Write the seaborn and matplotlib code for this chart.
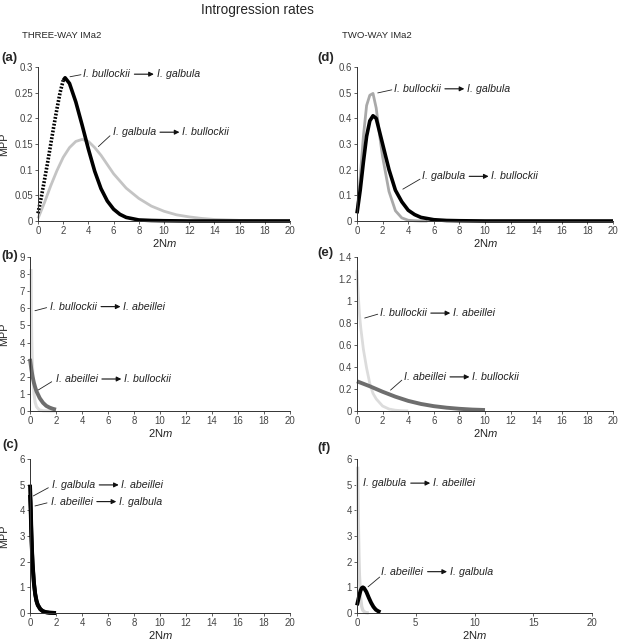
import numpy as np
import pandas as pd
import matplotlib.pyplot as plt
import seaborn as sns
from matplotlib.text import OffsetFrom
from matplotlib.ticker import FuncFormatter, MultipleLocator

sns.set_style("white")
plt.rcParams["font.family"] = ["Liberation Sans", "DejaVu Sans"]
plt.rcParams["mathtext.fontset"] = "custom"
plt.rcParams["mathtext.rm"] = "Liberation Sans"
plt.rcParams["mathtext.it"] = "Liberation Sans:italic"

# (a) three-way, bullockii <-> galbula
a_bg_x = [0, 0.25, 0.5, 0.75, 1, 1.25, 1.5, 1.75, 2, 2.15, 2.5, 3, 3.5, 4, 4.5, 5, 5.5, 6, 6.5, 7, 8, 9, 10, 12, 14, 16, 18, 20]
a_bg_y = [0.015, 0.045, 0.078, 0.112, 0.148, 0.184, 0.218, 0.250, 0.274, 0.279, 0.268, 0.232, 0.187, 0.140, 0.097, 0.063, 0.039, 0.023, 0.013, 0.007, 0.002, 0.001, 0.0005, 0, 0, 0, 0, 0]
a_gb_x = [0, 0.5, 1, 1.5, 2, 2.5, 3, 3.5, 4, 4.5, 5, 6, 7, 8, 9, 10, 11, 12, 13, 14, 16, 18, 20]
a_gb_y = [0.005, 0.035, 0.068, 0.098, 0.124, 0.143, 0.155, 0.159, 0.155, 0.143, 0.128, 0.092, 0.064, 0.044, 0.029, 0.019, 0.012, 0.008, 0.005, 0.003, 0.0012, 0.0005, 0.0002]

# (d) two-way, bullockii <-> galbula
d_bg_x = [0, 0.25, 0.5, 0.75, 1, 1.25, 1.5, 1.75, 2, 2.5, 3, 3.5, 4, 4.5, 5, 5.5]
d_bg_y = [0.03, 0.17, 0.33, 0.45, 0.49, 0.497, 0.44, 0.34, 0.25, 0.115, 0.04, 0.012, 0.003, 0.001, 0, 0]
d_gb_x = [0, 0.25, 0.5, 0.75, 1, 1.25, 1.5, 2, 2.5, 3, 3.5, 4, 4.5, 5, 6, 7, 8, 10, 15, 20]
d_gb_y = [0.03, 0.12, 0.23, 0.33, 0.39, 0.41, 0.40, 0.30, 0.20, 0.12, 0.075, 0.042, 0.025, 0.014, 0.005, 0.002, 0.001, 0, 0, 0]

# (b) three-way, bullockii <-> abeillei
b_ba_x = [0.08, 0.1, 0.13, 0.17, 0.22, 0.3, 0.4, 0.5, 0.7, 1.0, 1.5, 2.0]
b_ba_y = [8.3, 6.0, 4.2, 3.0, 2.1, 1.05, 0.5, 0.25, 0.07, 0.01, 0.002, 0]
b_ab_x = [0, 0.1, 0.2, 0.3, 0.4, 0.5, 0.75, 1.0, 1.25, 1.5, 1.75, 2.0]
b_ab_y = [3.05, 2.45, 2.0, 1.65, 1.38, 1.15, 0.75, 0.48, 0.3, 0.2, 0.13, 0.08]

# (e) two-way, bullockii <-> abeillei
e_ba_x = [0, 0.1, 0.2, 0.3, 0.5, 0.75, 1.0, 1.25, 1.5, 2.0, 2.5, 3.0, 3.5, 4.0]
e_ba_y = [1.28, 1.05, 0.87, 0.75, 0.56, 0.39, 0.25, 0.16, 0.11, 0.045, 0.018, 0.007, 0.003, 0.001]
e_ab_x = [0, 1, 2, 3, 4, 5, 6, 7, 8, 9, 10]
e_ab_y = [0.27, 0.225, 0.175, 0.13, 0.092, 0.064, 0.044, 0.03, 0.02, 0.013, 0.009]

# (c) three-way, galbula <-> abeillei
c_ga_x = [0, 0.05, 0.1, 0.15, 0.2, 0.3, 0.4, 0.5, 0.6, 0.8, 1.0, 1.25, 1.5, 2.0]
c_ga_y = [5.0, 4.3, 3.3, 2.5, 1.95, 1.2, 0.75, 0.48, 0.32, 0.15, 0.07, 0.03, 0.012, 0.0]
c_ag_x = [0, 0.05, 0.1, 0.15, 0.2, 0.3, 0.4, 0.5, 0.6, 0.8, 1.0, 1.25, 1.5, 2.0]
c_ag_y = [4.6, 4.0, 3.1, 2.4, 1.85, 1.15, 0.72, 0.46, 0.3, 0.14, 0.065, 0.028, 0.01, 0.0]

# (f) two-way, galbula <-> abeillei
f_ga_x = [0.05, 0.08, 0.12, 0.16, 0.2, 0.3, 0.4, 0.5, 0.7, 1.0]
f_ga_y = [5.7, 4.5, 3.2, 2.2, 1.5, 0.6, 0.25, 0.1, 0.02, 0]
f_ag_x = [0, 0.1, 0.2, 0.3, 0.4, 0.5, 0.6, 0.8, 1.0, 1.2, 1.4, 1.6, 1.8, 2.0]
f_ag_y = [0.3, 0.5, 0.7, 0.87, 0.97, 1.0, 0.97, 0.82, 0.6, 0.4, 0.24, 0.13, 0.07, 0.03]

W, H = 620, 640
fig = plt.figure(figsize=(6.2, 6.4), dpi=100)


def make_ax(l, r, t, b):
    return fig.add_axes([l / W, 1 - b / H, (r - l) / W, (b - t) / H])


def style(ax, ymax, ystep, xstep=2, mpp=None):
    ax.set_xlim(0, 20)
    ax.set_ylim(0, ymax)
    ax.xaxis.set_major_locator(MultipleLocator(xstep))
    ax.yaxis.set_major_locator(MultipleLocator(ystep))
    fmt = FuncFormatter(lambda v, _: f"{v:g}")
    ax.xaxis.set_major_formatter(fmt)
    ax.yaxis.set_major_formatter(fmt)
    for s in ["top", "right"]:
        ax.spines[s].set_visible(False)
    for s in ["left", "bottom"]:
        ax.spines[s].set_linewidth(0.7)
        ax.spines[s].set_color("#333333")
    ax.tick_params(axis="both", labelsize=6.9, length=2, width=0.6, pad=1.5,
                   colors="#444444", direction="out", left=True, bottom=True)
    ax.set_xlabel("2N$\\mathit{m}$", fontsize=8, labelpad=0.5, color="#222222")
    if mpp is not None:
        ax.set_ylabel("MPP", fontsize=7.8, color="#222222")
        ax.yaxis.set_label_coords(mpp, 0.5)
    else:
        ax.set_ylabel("")


def curve(ax, x, y, color, lw, ls="-"):
    sns.lineplot(x=x, y=y, ax=ax, color=color, lw=lw, linestyle=ls,
                 clip_on=False, solid_capstyle="butt")


def flow(ax, x, y, src, dst, lead=None):
    t = ax.text(x, y, src, style="italic", fontsize=7.7, ha="left", va="center",
                color="#222222")
    ref = OffsetFrom(t, (1.0, 0.5))
    ax.annotate("", xy=(17, 0), xycoords=ref, xytext=(3, 0), textcoords=ref,
                arrowprops=dict(arrowstyle="-|>", color="#111111", lw=0.8,
                                mutation_scale=7, shrinkA=0, shrinkB=0))
    ax.annotate(dst, xy=(1.0, 0.5), xycoords=t, xytext=(19, 0),
                textcoords="offset points", style="italic", fontsize=7.7,
                ha="left", va="center", color="#222222")
    if lead is not None:
        (x0, y0), (x1, y1) = lead
        ax.annotate("", xy=(x0, y0), xytext=(x1, y1),
                    arrowprops=dict(arrowstyle="-", color="#222222", lw=0.6,
                                    shrinkA=0, shrinkB=0))


# (a)
ax = make_ax(38, 290, 67, 221)
style(ax, 0.3, 0.05, mpp=-0.115)
curve(ax, a_gb_x, a_gb_y, "#c4c4c4", 2.0)
rise = [i for i, v in enumerate(a_bg_x) if v <= 2.0]
curve(ax, [a_bg_x[i] for i in rise], [a_bg_y[i] for i in rise], "black", 2.6, (0, (0.5, 0.45)))
curve(ax, a_bg_x[rise[-1]:], a_bg_y[rise[-1]:], "black", 2.6)
flow(ax, 3.6, 0.286, "I. bullockii", "I. galbula", ((2.54, 0.281), (3.41, 0.285)))
flow(ax, 5.93, 0.173, "I. galbula", "I. bullockii", ((4.79, 0.145), (5.71, 0.166)))

# (d)
ax = make_ax(357, 613, 67, 221)
style(ax, 0.6, 0.1)
curve(ax, d_bg_x, d_bg_y, "#a9a9a9", 2.0)
curve(ax, d_gb_x, d_gb_y, "black", 2.6)
flow(ax, 2.88, 0.515, "I. bullockii", "I. galbula", ((1.62, 0.499), (2.72, 0.511)))
flow(ax, 5.07, 0.174, "I. galbula", "I. bullockii", ((3.58, 0.124), (4.92, 0.163)))

# (b)
ax = make_ax(30, 290, 257, 411)
style(ax, 9, 1, mpp=-0.082)
curve(ax, b_ba_x, b_ba_y, "#dddddd", 2.2)
curve(ax, b_ab_x, b_ab_y, "#6e6e6e", 2.8)
flow(ax, 1.54, 6.1, "I. bullockii", "I. abeillei", ((0.38, 5.86), (1.28, 6.04)))
flow(ax, 1.98, 1.87, "I. abeillei", "I. bullockii", ((0.64, 1.23), (1.67, 1.71)))

# (e)
ax = make_ax(357, 613, 257, 411)
style(ax, 1.4, 0.2)
curve(ax, e_ba_x, e_ba_y, "#dcdcdc", 2.0)
curve(ax, e_ab_x, e_ab_y, "#6e6e6e", 2.8)
flow(ax, 1.78, 0.89, "I. bullockii", "I. abeillei", ((0.6, 0.845), (1.62, 0.88)))
flow(ax, 3.66, 0.31, "I. abeillei", "I. bullockii", ((2.62, 0.19), (3.5, 0.28)))

# (c)
ax = make_ax(30, 290, 459, 613)
style(ax, 6, 1, mpp=-0.082)
curve(ax, c_ag_x, c_ag_y, "black", 2.8)
curve(ax, c_ga_x, c_ga_y, "black", 2.8)
flow(ax, 1.69, 4.99, "I. galbula", "I. abeillei", ((0.25, 4.56), (1.41, 4.88)))
flow(ax, 1.59, 4.34, "I. abeillei", "I. galbula", ((0.38, 4.17), (1.31, 4.29)))

# (f)
ax = make_ax(357, 592, 459, 613)
style(ax, 6, 1, xstep=5)
curve(ax, f_ga_x, f_ga_y, "#d8d8d8", 2.4)
curve(ax, f_ag_x, f_ag_y, "black", 2.8)
flow(ax, 0.55, 5.06, "I. galbula", "I. abeillei")
flow(ax, 2.08, 1.61, "I. abeillei", "I. galbula", ((0.94, 1.02), (1.93, 1.40)))

# figure-level texts
fig.text(257 / W, 1 - 10 / H, "Introgression rates", ha="center", va="center", fontsize=9.8)
fig.text(22 / W, 1 - 36 / H, "THREE-WAY IMa2", ha="left", va="center", fontsize=6.8)
fig.text(342 / W, 1 - 36 / H, "TWO-WAY IMa2", ha="left", va="center", fontsize=6.8)
for lab, px, py in [("(a)", 1, 58), ("(d)", 317, 58), ("(b)", 1, 256),
                    ("(e)", 317, 253), ("(c)", 2, 445), ("(f)", 317, 448)]:
    fig.text(px / W, 1 - py / H, lab, ha="left", va="center", fontsize=9.5, fontweight="bold")

fig.savefig("out.png", dpi=100)
